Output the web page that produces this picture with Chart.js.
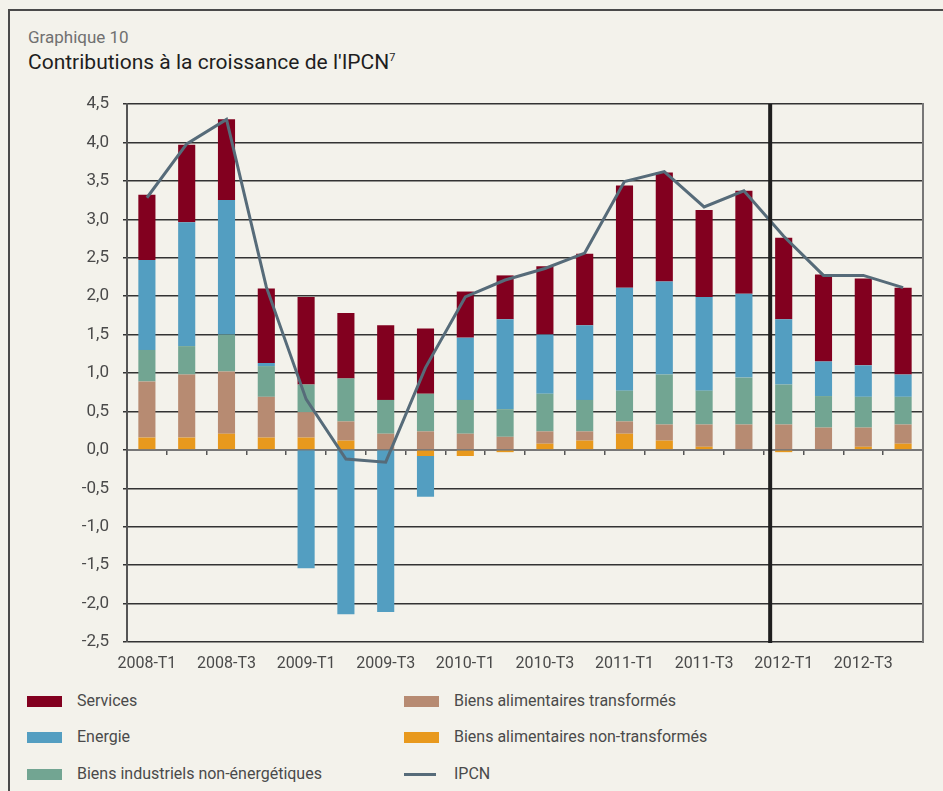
<!DOCTYPE html>
<html>
<head>
<meta charset="utf-8">
<script src="https://cdn.jsdelivr.net/npm/chart.js@4.4.1/dist/chart.umd.min.js"></script>
<style>
  html, body { margin:0; padding:0; background:#f3f2eb; }
  body { width:943px; height:791px; position:relative; overflow:hidden; font-family:Roboto, "Noto Sans", sans-serif; }
  .frame { position:absolute; left:8px; top:9px; width:1000px; height:900px; border-left:2px solid #4a4a4a; border-top:2px solid #4a4a4a; }
  .sup { position:absolute; left:28px; top:27px; font-size:17px; color:#707070; }
  .title { position:absolute; left:28px; top:50px; font-size:21px; color:#1e1e1e; }
  .title sup { font-size:11px; }
  #wrap { position:absolute; left:0; top:0; width:943px; height:680px; }
  .leg { position:absolute; font-size:16px; color:#4a4a4a; }
  .sw { position:absolute; width:35px; height:11px; }
</style>
</head>
<body>
<div class="frame"></div>
<div class="sup">Graphique 10</div>
<div class="title">Contributions à la croissance de l'IPCN<sup>7</sup></div>
<div id="wrap"><canvas id="chart" width="943" height="680"></canvas></div>
<div id="legend"></div>
<script>
const labels = ['2008-T1','2008-T2','2008-T3','2008-T4','2009-T1','2009-T2','2009-T3','2009-T4',
  '2010-T1','2010-T2','2010-T3','2010-T4','2011-T1','2011-T2','2011-T3','2011-T4',
  '2012-T1','2012-T2','2012-T3','2012-T4'];

const nonTransformes = [0.16,0.16,0.21,0.16,0.16,0.12,0.00,-0.08,-0.08,-0.03,0.08,0.12,0.21,0.12,0.04,0.00,-0.03,0.00,0.04,0.08];
const transformes    = [0.73,0.82,0.81,0.53,0.33,0.25,0.21,0.24,0.21,0.17,0.16,0.12,0.16,0.21,0.29,0.33,0.33,0.29,0.25,0.25];
const industriels    = [0.41,0.37,0.48,0.40,0.36,0.56,0.44,0.49,0.44,0.36,0.49,0.41,0.40,0.65,0.44,0.61,0.52,0.41,0.40,0.36];
const energie        = [1.17,1.61,1.75,0.04,-1.54,-2.14,-2.11,-0.53,0.81,1.17,0.77,0.97,1.34,1.21,1.22,1.09,0.85,0.45,0.41,0.29];
const services       = [0.85,1.01,1.05,0.97,1.14,0.85,0.97,0.85,0.60,0.57,0.89,0.93,1.33,1.42,1.13,1.34,1.06,1.13,1.13,1.13];
const ipcn           = [3.28,3.98,4.30,2.12,0.66,-0.12,-0.16,1.07,1.99,2.21,2.36,2.56,3.49,3.62,3.16,3.37,2.78,2.27,2.27,2.11];

const colors = {
  services:'#82001f', energie:'#539ec1', industriels:'#72a592',
  transformes:'#b78b72', nonTransformes:'#e8991d', ipcn:'#566b79'
};

function bar(label, data, color) {
  return { type:'bar', label, data, backgroundColor:color, stack:'s', order:1,
           barPercentage:0.43, categoryPercentage:1 };
}

// black separator between 2011-T4 and 2012-T1
const divider = {
  id:'divider',
  afterDatasetsDraw(chart) {
    const {ctx, chartArea, scales} = chart;
    const x = scales.x.getPixelForValue(15.66);
    ctx.save();
    ctx.strokeStyle = '#1e1e1e';
    ctx.lineWidth = 4;
    ctx.beginPath();
    ctx.moveTo(x, chartArea.top);
    ctx.lineTo(x, chartArea.bottom + 1);
    ctx.stroke();
    ctx.restore();
  }
};

const font = { family:'Roboto, "Noto Sans", sans-serif', size:16 };

new Chart(document.getElementById('chart'), {
  data: {
    labels,
    datasets: [
      bar('Biens alimentaires non-transformés', nonTransformes, colors.nonTransformes),
      bar('Biens alimentaires transformés', transformes, colors.transformes),
      bar('Biens industriels non-énergétiques', industriels, colors.industriels),
      bar('Energie', energie, colors.energie),
      bar('Services', services, colors.services),
      { type:'line', label:'IPCN', data:ipcn, borderColor:colors.ipcn, borderWidth:3,
        pointRadius:0, tension:0, fill:false, stack:'ipcn', order:0 }
    ]
  },
  options: {
    responsive:false,
    animation:false,
    devicePixelRatio:1,
    layout:{ padding:{ top:104, left:0, right:0, bottom:0 } },
    plugins:{ legend:{ display:false }, tooltip:{ enabled:false } },
    scales:{
      x:{
        stacked:true,
        grid:{ display:false },
        border:{ display:false },
        ticks:{
          color:'#4a4a4a', font, padding:4, autoSkip:false, maxRotation:0,
          callback:(v, i) => i % 2 === 0 ? labels[i] : ''
        },
        afterFit:s => { s.height = 38; }
      },
      x0:{
        type:'category',
        position:{ y:0 },
        offset:true,
        grid:{ offset:true, drawOnChartArea:false, drawTicks:true, tickLength:4, color:'#555', lineWidth:1.5 },
        border:{ display:true, color:'#777', width:2 },
        ticks:{ display:false }
      },
      y:{
        stacked:true,
        min:-2.5, max:4.5,
        grid:{ color:'#333', lineWidth:1.5, tickLength:4 },
        border:{ display:true, color:'#555', width:2 },
        ticks:{
          stepSize:0.5, color:'#4a4a4a', font:{ ...font, size:17 }, padding:14,
          callback:v => v.toFixed(1).replace('.', ',')
        },
        afterFit:s => { s.width = 127; }
      },
      y2:{
        position:'right',
        min:0, max:1,
        grid:{ drawOnChartArea:false, drawTicks:false },
        border:{ display:true, color:'#777', width:2 },
        ticks:{ display:false },
        afterFit:s => { s.width = 20; }
      }
    }
  },
  plugins:[divider]
});

// legend: two columns, three rows
const legendItems = [
  { text:'Services', color:colors.services, col:0, row:0 },
  { text:'Energie', color:colors.energie, col:0, row:1 },
  { text:'Biens industriels non-énergétiques', color:colors.industriels, col:0, row:2 },
  { text:'Biens alimentaires transformés', color:colors.transformes, col:1, row:0 },
  { text:'Biens alimentaires non-transformés', color:colors.nonTransformes, col:1, row:1 },
  { text:'IPCN', color:colors.ipcn, col:1, row:2, line:true }
];
const legend = document.getElementById('legend');
legendItems.forEach(it => {
  const x = it.col === 0 ? 27 : 404;
  const yc = 701 + it.row * 36.5;
  const sw = document.createElement('div');
  sw.className = 'sw';
  sw.style.background = it.color;
  sw.style.left = x + 'px';
  if (it.line) { sw.style.height = '3px'; sw.style.width = '32px'; sw.style.top = (yc - 1.5) + 'px'; }
  else sw.style.top = (yc - 5.5) + 'px';
  legend.appendChild(sw);
  const t = document.createElement('div');
  t.className = 'leg';
  t.textContent = it.text;
  t.style.left = (x + 50) + 'px';
  t.style.top = (yc - 10.5) + 'px';
  legend.appendChild(t);
});
</script>
</body>
</html>
